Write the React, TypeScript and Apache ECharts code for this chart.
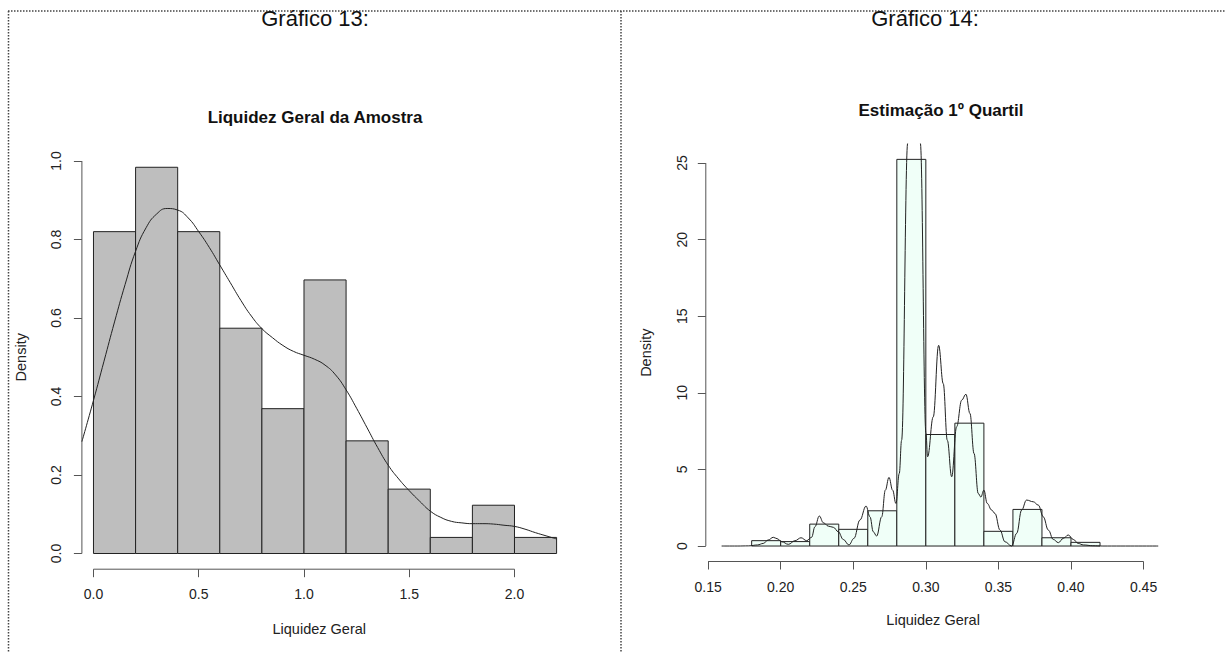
import React, { useEffect, useRef } from "react";
import * as echarts from "echarts";

// ---------- Gráfico 13 (left) ----------
const leftBreaks = [0, 0.2, 0.4, 0.6, 0.8, 1.0, 1.2, 1.4, 1.6, 1.8, 2.0, 2.2];
const leftDensity = [0.82, 0.984, 0.82, 0.574, 0.369, 0.697, 0.287, 0.164, 0.041, 0.123, 0.041];
const leftCurveX = [-0.055, 0, 0.05, 0.1, 0.15, 0.2, 0.25, 0.3, 0.35, 0.4, 0.45, 0.5, 0.55, 0.6, 0.65, 0.7, 0.75, 0.8, 0.85, 0.9, 0.95, 1.0, 1.05, 1.1, 1.15, 1.2, 1.25, 1.3, 1.35, 1.4, 1.45, 1.5, 1.55, 1.6, 1.65, 1.7, 1.75, 1.8, 1.85, 1.9, 1.95, 2.0, 2.05, 2.1, 2.15, 2.2];
const leftCurveY = [0.285, 0.39, 0.49, 0.59, 0.685, 0.77, 0.83, 0.865, 0.879, 0.875, 0.855, 0.82, 0.78, 0.735, 0.69, 0.645, 0.605, 0.573, 0.55, 0.53, 0.515, 0.505, 0.495, 0.48, 0.455, 0.417, 0.37, 0.32, 0.27, 0.225, 0.19, 0.16, 0.133, 0.108, 0.092, 0.082, 0.078, 0.076, 0.076, 0.075, 0.072, 0.069, 0.062, 0.053, 0.045, 0.037];
const leftXTicks = [0, 0.5, 1.0, 1.5, 2.0];
const leftYTicks = [0, 0.2, 0.4, 0.6, 0.8, 1.0];

// ---------- Gráfico 14 (right) ----------
const rightBreaks = [0.18, 0.2, 0.22, 0.24, 0.26, 0.28, 0.3, 0.32, 0.34, 0.36, 0.38, 0.4, 0.42];
const rightDensity = [0.35, 0.29, 1.43, 1.09, 2.3, 25.24, 7.28, 8.02, 0.96, 2.39, 0.54, 0.24];
const rightCurveX = [0.1593, 0.17, 0.178, 0.184, 0.188, 0.1915, 0.1949, 0.1975, 0.2007, 0.2053, 0.2099, 0.214, 0.2179, 0.2213, 0.2236, 0.2266, 0.2294, 0.2328, 0.2363, 0.2397, 0.2431, 0.247, 0.2505, 0.2546, 0.2588, 0.2615, 0.2638, 0.2661, 0.2696, 0.2721, 0.2746, 0.2771, 0.2794, 0.2817, 0.2833, 0.2875, 0.2895, 0.2918, 0.294, 0.2962, 0.3001, 0.3012, 0.3051, 0.3088, 0.312, 0.3148, 0.3178, 0.3212, 0.3247, 0.3276, 0.3304, 0.3332, 0.3361, 0.3379, 0.34, 0.3423, 0.3453, 0.3476, 0.3511, 0.3545, 0.3591, 0.3626, 0.366, 0.3694, 0.374, 0.3775, 0.3809, 0.3844, 0.3878, 0.3913, 0.3947, 0.3981, 0.4016, 0.405, 0.4085, 0.415, 0.422, 0.4601];
const rightCurveY = [0, 0, 0.01, 0.07, 0.17, 0.4, 0.57, 0.48, 0.28, 0.11, 0.35, 0.54, 0.35, 0.57, 1.26, 1.96, 1.52, 1.3, 1.22, 0.93, 0.43, 0.07, 0.5, 1.7, 2.61, 1.91, 0.93, 0.65, 1.91, 3.65, 4.48, 3.65, 2.78, 4.74, 6.9, 26.3, 31, 33, 31, 26.3, 7.35, 5.83, 8.43, 13.1, 10.6, 6.9, 4.52, 7.78, 9.52, 9.91, 8.65, 6.04, 3.43, 3.2, 3.65, 2.78, 2.35, 2.13, 1.04, 0.28, 0, 0.83, 2.35, 3.0, 2.89, 2.67, 1.91, 1.04, 0.43, 0.22, 0.5, 0.72, 0.43, 0.17, 0.07, 0.02, 0, 0];
const rightXTicks = [0.15, 0.2, 0.25, 0.3, 0.35, 0.4, 0.45];
const rightYTicks = [0, 5, 10, 15, 20, 25];

const FONT = "'Liberation Sans', Arial, Helvetica, sans-serif";
const AXIS_COLOR = "#555";
const TEXT_COLOR = "#222";

// plot-region limits (R style: 4% extension)
const L = { xMin: -0.055, xMax: 2.2, yMin: -0.04, yMax: 1.04 };
const R = { xMin: 0.1484, xMax: 0.4616, yMin: -1.01, yMax: 26.25 };

function histData(breaks: number[], dens: number[]) {
  return dens.map((d, i) => [breaks[i], breaks[i + 1], d]);
}

function histSeries(idx: number, data: number[][], fill: string) {
  return {
    type: "custom",
    xAxisIndex: idx,
    yAxisIndex: idx,
    encode: { x: [0, 1], y: 2 },
    data,
    silent: true,
    renderItem: (_p: any, api: any) => {
      const a = api.coord([api.value(0), api.value(2)]);
      const b = api.coord([api.value(1), 0]);
      return {
        type: "rect",
        shape: { x: a[0], y: a[1], width: b[0] - a[0], height: b[1] - a[1] },
        style: { fill, stroke: "#222", lineWidth: 1 },
      };
    },
    z: 2,
  };
}

function axisLineSeries(idx: number, pts: number[][]) {
  return {
    type: "line",
    xAxisIndex: idx,
    yAxisIndex: idx,
    data: pts,
    showSymbol: false,
    symbol: "none",
    clip: false,
    silent: true,
    lineStyle: { color: AXIS_COLOR, width: 1 },
    z: 1,
  };
}

function xAxisCfg(idx: number, lim: any, ticks: number[], digits: number, gap: number) {
  return {
    gridIndex: idx,
    type: "value",
    position: "bottom",
    min: lim.xMin,
    max: lim.xMax,
    axisLine: { show: false, onZero: false },
    splitLine: { show: false },
    axisTick: { show: true, inside: false, customValues: ticks, length: 8, lineStyle: { color: AXIS_COLOR } },
    axisLabel: {
      customValues: ticks,
      formatter: (v: number) => v.toFixed(digits),
      margin: 18,
      fontSize: 14,
      color: TEXT_COLOR,
      fontFamily: FONT,
    },
    name: "Liquidez Geral",
    nameLocation: "middle",
    nameGap: gap,
    nameTextStyle: { fontSize: 14.5, color: TEXT_COLOR, fontFamily: FONT },
  };
}

function yAxisCfg(idx: number, lim: any, ticks: number[], digits: number, margin: number, gap: number) {
  return {
    gridIndex: idx,
    type: "value",
    position: "left",
    min: lim.yMin,
    max: lim.yMax,
    axisLine: { show: false, onZero: false },
    splitLine: { show: false },
    axisTick: { show: true, inside: false, customValues: ticks, length: 8, lineStyle: { color: AXIS_COLOR } },
    axisLabel: {
      customValues: ticks,
      rotate: 90,
      formatter: (v: number) => v.toFixed(digits),
      margin,
      fontSize: 14,
      color: TEXT_COLOR,
      fontFamily: FONT,
    },
    name: "Density",
    nameLocation: "middle",
    nameGap: gap,
    nameTextStyle: { fontSize: 14.5, color: TEXT_COLOR, fontFamily: FONT },
  };
}

export default function App() {
  const ref = useRef<HTMLDivElement>(null);
  useEffect(() => {
    document.body.style.margin = "0";
    const chart = echarts.init(ref.current!, null, { renderer: "svg" });
    const border = { stroke: "#444", lineWidth: 1.5, lineDash: [1.5, 1.5] };
    chart.setOption({
      animation: false,
      backgroundColor: "#fff",
      grid: [
        { left: 81.9, top: 145.3, width: 474.7, height: 423.9, outerBoundsMode: "none" },
        { left: 705.8, top: 143.9, width: 454.6, height: 417.6, outerBoundsMode: "none" },
      ],
      xAxis: [
        xAxisCfg(0, L, leftXTicks, 1, 52),
        xAxisCfg(1, R, rightXTicks, 2, 51),
      ],
      yAxis: [
        yAxisCfg(0, L, leftYTicks, 1, 19, 53),
        yAxisCfg(1, R, rightYTicks, 0, 17, 52),
      ],
      series: [
        histSeries(0, histData(leftBreaks, leftDensity), "#BEBEBE"),
        {
          type: "line",
          xAxisIndex: 0,
          yAxisIndex: 0,
          data: leftCurveX.map((x, i) => [x, leftCurveY[i]]),
          showSymbol: false,
          symbol: "none",
          smooth: 0.5,
          silent: true,
          lineStyle: { color: "#222", width: 1 },
          z: 3,
        },
        axisLineSeries(0, [[leftXTicks[0], L.yMin], [leftXTicks[leftXTicks.length - 1], L.yMin]]),
        axisLineSeries(0, [[L.xMin, leftYTicks[0]], [L.xMin, leftYTicks[leftYTicks.length - 1]]]),

        histSeries(1, histData(rightBreaks, rightDensity), "#F0FFF8"),
        {
          type: "line",
          xAxisIndex: 1,
          yAxisIndex: 1,
          data: rightCurveX.map((x, i) => [x, rightCurveY[i]]),
          showSymbol: false,
          symbol: "none",
          smooth: 0.4,
          smoothMonotone: "x",
          clip: true,
          silent: true,
          lineStyle: { color: "#222", width: 1 },
          z: 3,
        },
        axisLineSeries(1, [[rightXTicks[0], R.yMin], [rightXTicks[rightXTicks.length - 1], R.yMin]]),
        axisLineSeries(1, [[R.xMin, rightYTicks[0]], [R.xMin, rightYTicks[rightYTicks.length - 1]]]),
      ],
      graphic: [
        { type: "line", shape: { x1: 8, y1: 11, x2: 1225, y2: 11 }, style: border, silent: true },
        { type: "line", shape: { x1: 8.5, y1: 11, x2: 8.5, y2: 653 }, style: border, silent: true },
        { type: "line", shape: { x1: 621, y1: 11, x2: 621, y2: 653 }, style: border, silent: true },
        {
          type: "text", x: 315, y: 18, silent: true,
          style: { text: "Gráfico 13:", align: "center", verticalAlign: "middle", font: `22px ${FONT}`, fill: "#111" },
        },
        {
          type: "text", x: 925, y: 18, silent: true,
          style: { text: "Gráfico 14:", align: "center", verticalAlign: "middle", font: `22px ${FONT}`, fill: "#111" },
        },
        {
          type: "text", x: 315, y: 117, silent: true,
          style: { text: "Liquidez Geral da Amostra", align: "center", verticalAlign: "middle", font: `bold 17px ${FONT}`, fill: "#111" },
        },
        {
          type: "text", x: 941, y: 110, silent: true,
          style: { text: "Estimação 1º Quartil", align: "center", verticalAlign: "middle", font: `bold 17px ${FONT}`, fill: "#111" },
        },
      ],
    });
    return () => chart.dispose();
  }, []);
  return <div ref={ref} style={{ width: 1225, height: 653 }} />;
}
